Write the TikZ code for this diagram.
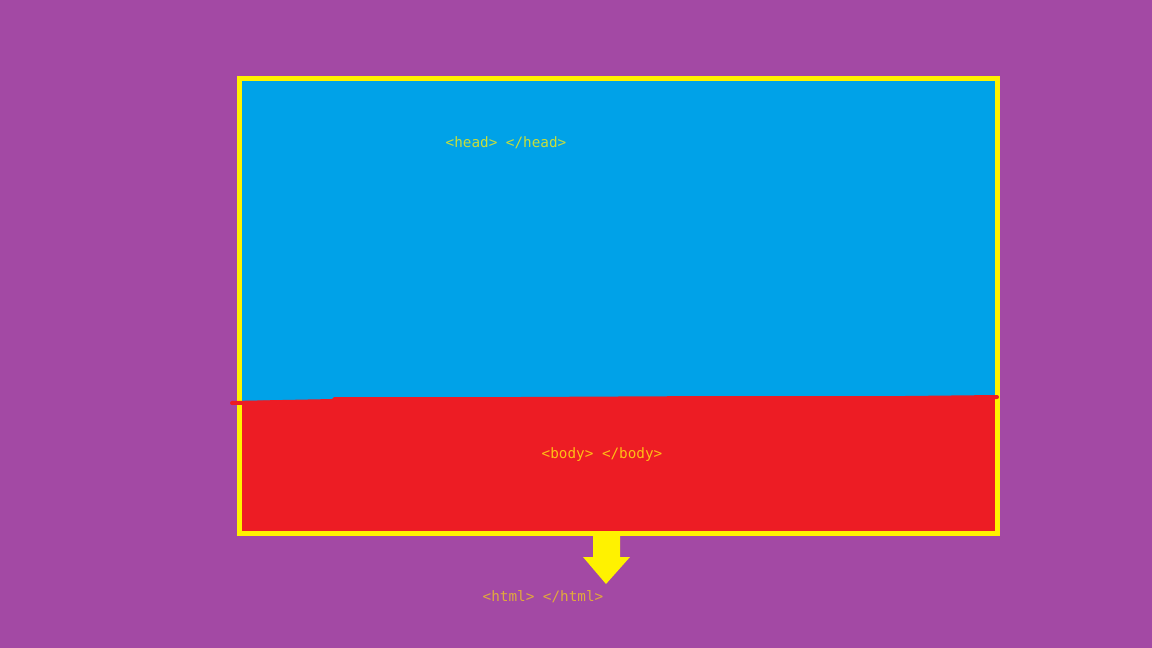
\documentclass[tikz,border=0pt]{standalone}
\usepackage{fontspec}
\setmonofont{DejaVu Sans Mono}
\definecolor{bgpurple}{RGB}{163,73,164}
\definecolor{pblue}{RGB}{0,162,232}
\definecolor{pred}{RGB}{237,28,36}
\definecolor{pyellow}{RGB}{255,242,0}
\definecolor{headtxt}{RGB}{200,222,60}
\definecolor{bodytxt}{RGB}{255,190,20}
\definecolor{htmltxt}{RGB}{225,170,60}
\tikzset{lbl/.style={font=\ttfamily\fontsize{14.3}{17}\selectfont, inner sep=0pt, anchor=center}}
\begin{document}
\begin{tikzpicture}[x=1pt,y=-1pt]
\useasboundingbox (0,0) rectangle (1152,648);
\fill[bgpurple] (0,0) rectangle (1152,648);
% head area
\fill[pblue] (239,78) rectangle (998,534);
% body area
\fill[pred] (239,401) -- (520,398) -- (998,396) -- (998,534) -- (239,534) -- cycle;
% frame
\draw[pyellow, line width=5pt] (239.5,78.5) rectangle (997.5,533.5);
% red stroke
\draw[pred, line width=4pt, line cap=round] (232,403) -- (333,401) -- (335,399) -- (520,399) -- (715,398) -- (905,398) -- (997,397);
% arrow
\fill[pyellow] (593,536) -- (620,536) -- (620,557) -- (630,557) -- (606,584) -- (583,557) -- (593,557) -- cycle;
\node[lbl, text=headtxt] (head) at (506,143) {<head> </head>};
\node[lbl, text=bodytxt] (body) at (602,455) {<body> </body>};
\node[lbl, text=htmltxt] (html) at (543,597) {<html> </html>};
\end{tikzpicture}
\end{document}
